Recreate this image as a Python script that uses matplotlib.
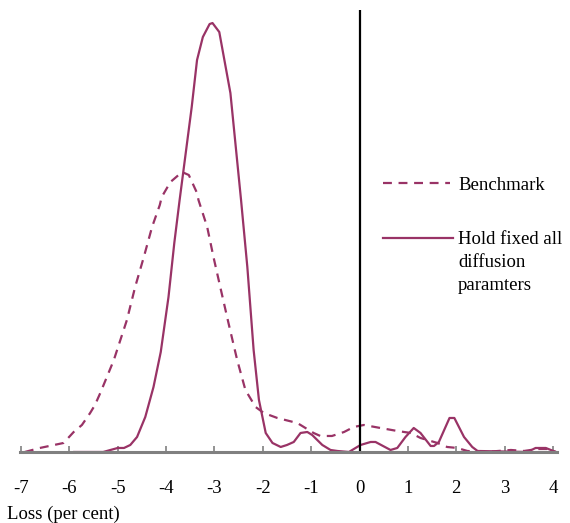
import matplotlib
matplotlib.use('Agg')
from matplotlib import pyplot as plt
from matplotlib.lines import Line2D

# loss distributions (density, arbitrary units)
bench_x = [-6.92, -6.61, -6.12, -5.91, -5.74, -5.57, -5.47, -5.36, -5.08, -4.81, -4.64,
           -4.46, -4.29, -4.13, -4.09, -3.91, -3.67, -3.53, -3.36, -3.33, -3.15, -3.02,
           -2.88, -2.71, -2.53, -2.36, -2.15, -1.98, -1.70, -1.29, -1.22, -0.95, -0.81,
           -0.57, -0.32, -0.12, 0.09, 0.43, 0.78, 1.06, 1.26, 1.61, 1.81, 2.02, 2.23,
           2.6, 3.13, 3.4, 3.68, 3.88, 4.06]
bench_y = [0, 4, 9, 20, 27, 39, 47, 59, 92, 132, 165,
           195, 225, 247, 255, 270, 280, 277, 259, 252, 225, 195,
           165, 129, 92, 62, 45, 39, 34, 29, 27, 19, 16,
           16, 20, 25, 27, 24, 21, 19, 14, 9, 5, 4, 1,
           0, 2, 1, 3, 3, 0]

hold_x = [-5.9, -5.3, -5.0, -4.87, -4.74, -4.6, -4.43, -4.26, -4.11, -3.95, -3.83,
          -3.72, -3.47, -3.36, -3.24, -3.10, -3.04, -2.90, -2.67, -2.45, -2.32, -2.19,
          -2.08, -1.94, -1.80, -1.63, -1.50, -1.36, -1.22, -1.08, -0.98, -0.77, -0.60,
          -0.46, -0.22, 0.02, 0.23, 0.33, 0.64, 0.78, 0.95, 1.12, 1.26, 1.47, 1.54,
          1.64, 1.86, 1.96, 2.16, 2.33, 2.44, 3.47, 3.64, 3.85, 4.06]
hold_y = [0, 0, 4, 4, 7, 15, 35, 65, 100, 155, 209,
          252, 345, 392, 415, 428, 429, 420, 359, 252, 185, 102,
          52, 19, 9, 5, 7, 10, 19, 20, 17, 7, 2,
          1, 0, 7, 10, 10, 2, 4, 15, 24, 19, 6, 6,
          10, 34, 34, 15, 5, 1, 0, 4, 4, 0]

ticks = list(range(-7, 5))
col = '#993366'

fig = plt.figure(figsize=(5.7, 5.23), dpi=100)
ax = fig.add_axes([0.0351, 0.1358, 0.9419, 0.845])

ax.plot(bench_x, bench_y, color=col, lw=1.6, dashes=(4, 3), label='Benchmark')
ax.plot(hold_x, hold_y, color=col, lw=1.6, label='Hold fixed all\ndiffusion\nparamters')
ax.axvline(0, color='black', lw=1.6)

ax.set_xlim(-7.02, 4.08)
ax.set_ylim(0, 442)
for s in ['top', 'right', 'left']:
    ax.spines[s].set_visible(False)
ax.spines['bottom'].set_color('#808080')
ax.spines['bottom'].set_linewidth(2.2)
ax.set_yticks([])
ax.set_xticks(ticks)
ax.set_xticklabels([str(t) for t in ticks])
ax.tick_params(axis='x', direction='in', length=4, width=1.2, color='#808080',
               pad=20, labelsize=13.5)
for lab in ax.get_xticklabels():
    lab.set_family('Liberation Serif')

fig.text(0.012, 0.008, 'Loss (per cent)', family='Liberation Serif', fontsize=13.5)

# legend drawn by hand
W, H = 570.0, 523.0
fig.add_artist(Line2D([383 / W, 450 / W], [1 - 183 / H, 1 - 183 / H], color=col,
                      lw=1.6, dashes=(4, 3)))
fig.add_artist(Line2D([383 / W, 453 / W], [1 - 238 / H, 1 - 238 / H], color=col, lw=1.6))
fig.text(458 / W, 1 - 185 / H, 'Benchmark', family='Liberation Serif', fontsize=13.5,
         va='center')
fig.text(458 / W, 1 - 231 / H, 'Hold fixed all\ndiffusion\nparamters',
         family='Liberation Serif', fontsize=13.5, va='top', linespacing=1.48)

fig.savefig('out.png', dpi=100)
